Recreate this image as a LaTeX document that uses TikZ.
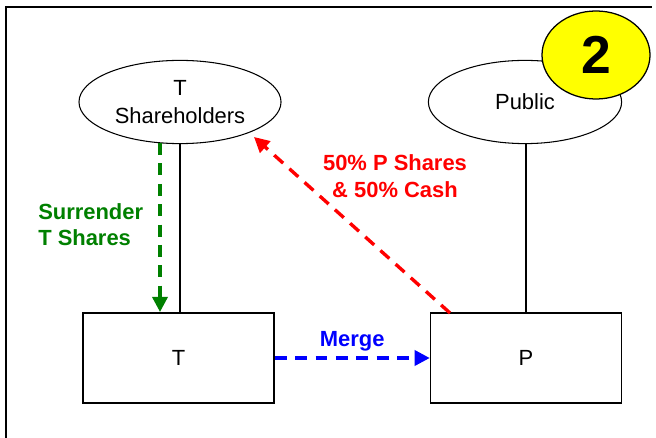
\documentclass[tikz,border=0pt]{standalone}
\usepackage{fontspec}
\setmainfont{Liberation Sans}
\usepackage{tikz}
\usetikzlibrary{
  arrows.meta,
  positioning,
  shapes.geometric,
}
\definecolor{partyGreen}{HTML}{008000}
\definecolor{partyBlue}{HTML}{0000FF}
\definecolor{partyRed}{HTML}{FF0000}
\definecolor{stepYellow}{HTML}{FFFF00}
\tikzset{
  holder/.style={
    ellipse, draw=black, line width=0.75pt, fill=white,
    minimum width=5.05cm, minimum height=2.08cm, inner sep=0pt,
    align=center, font=\fontsize{15.6}{19.5}\selectfont,
  },
  firm/.style={
    rectangle, draw=black, line width=0.9pt, fill=white,
    minimum width=4.78cm, minimum height=2.25cm, inner sep=0pt,
    font=\fontsize{15.6}{19.5}\selectfont,
  },
  stepBadge/.style={
    ellipse, draw=black, line width=0.9pt, fill=stepYellow,
    minimum width=2.7cm, minimum height=2.2cm, inner sep=0pt,
    font=\fontsize{38}{40}\selectfont\bfseries,
  },
  flowLabel/.style={
    inner sep=0pt, align=#1,
    font=\fontsize{15.6}{19}\selectfont\bfseries,
  },
  flowLabel/.default=center,
  tie/.style={line width=0.75pt, draw=black},
  arrowFlow/.style={
    -{Triangle[length=3.8mm,width=3.8mm]}, line width=2.4pt,
    dash pattern=on 8.5pt off 6pt, draw=#1,
  },
}

\begin{document}
\begin{tikzpicture}[x=0.025cm, y=-0.025cm]
\useasboundingbox (0,0) rectangle (656,438);

% frame
\coordinate (frameTL) at (6,7);
\coordinate (frameTR) at (652,7);
\coordinate (frameBL) at (6,438);
\draw[line width=1.5pt] (frameBL) -- (frameTL) -- (frameTR);

\node[holder] (tHolders) at (180,102) {T\\Shareholders};
\node[holder, minimum width=4.83cm] (public) at (525,102) {Public};
\node[stepBadge] (step) at (596,55) {2};

\node[firm] (tFirm) at (178.5,358) {T};
\node[firm] (pFirm) at (526,358) {P};

\draw[tie] (tHolders.south) -- (tHolders.south |- tFirm.north);
\draw[tie] (public.south -| pFirm.north) -- (pFirm.north);

% surrender
\coordinate (surrTop) at (160,143);
\coordinate (surrBot) at (160,312);
\draw[arrowFlow=partyGreen] (surrTop) -- (surrBot);
\node[flowLabel=left, text=partyGreen, anchor=north west] (surrLbl) at (38,203)
  {Surrender\\T Shares};

% merge
\draw[arrowFlow=partyBlue] (tFirm.east) -- node[above=4pt, flowLabel, text=partyBlue] (mergeLbl) {Merge} (pFirm.west);

% consideration
\coordinate (payFrom) at (450,313);
\coordinate (payTo) at (254,137);
\draw[arrowFlow=partyRed] (payFrom) -- (payTo);
\node[flowLabel, text=partyRed] (payLbl) at (395,176) {50\% P Shares\\\& 50\% Cash};

\end{tikzpicture}
\end{document}
